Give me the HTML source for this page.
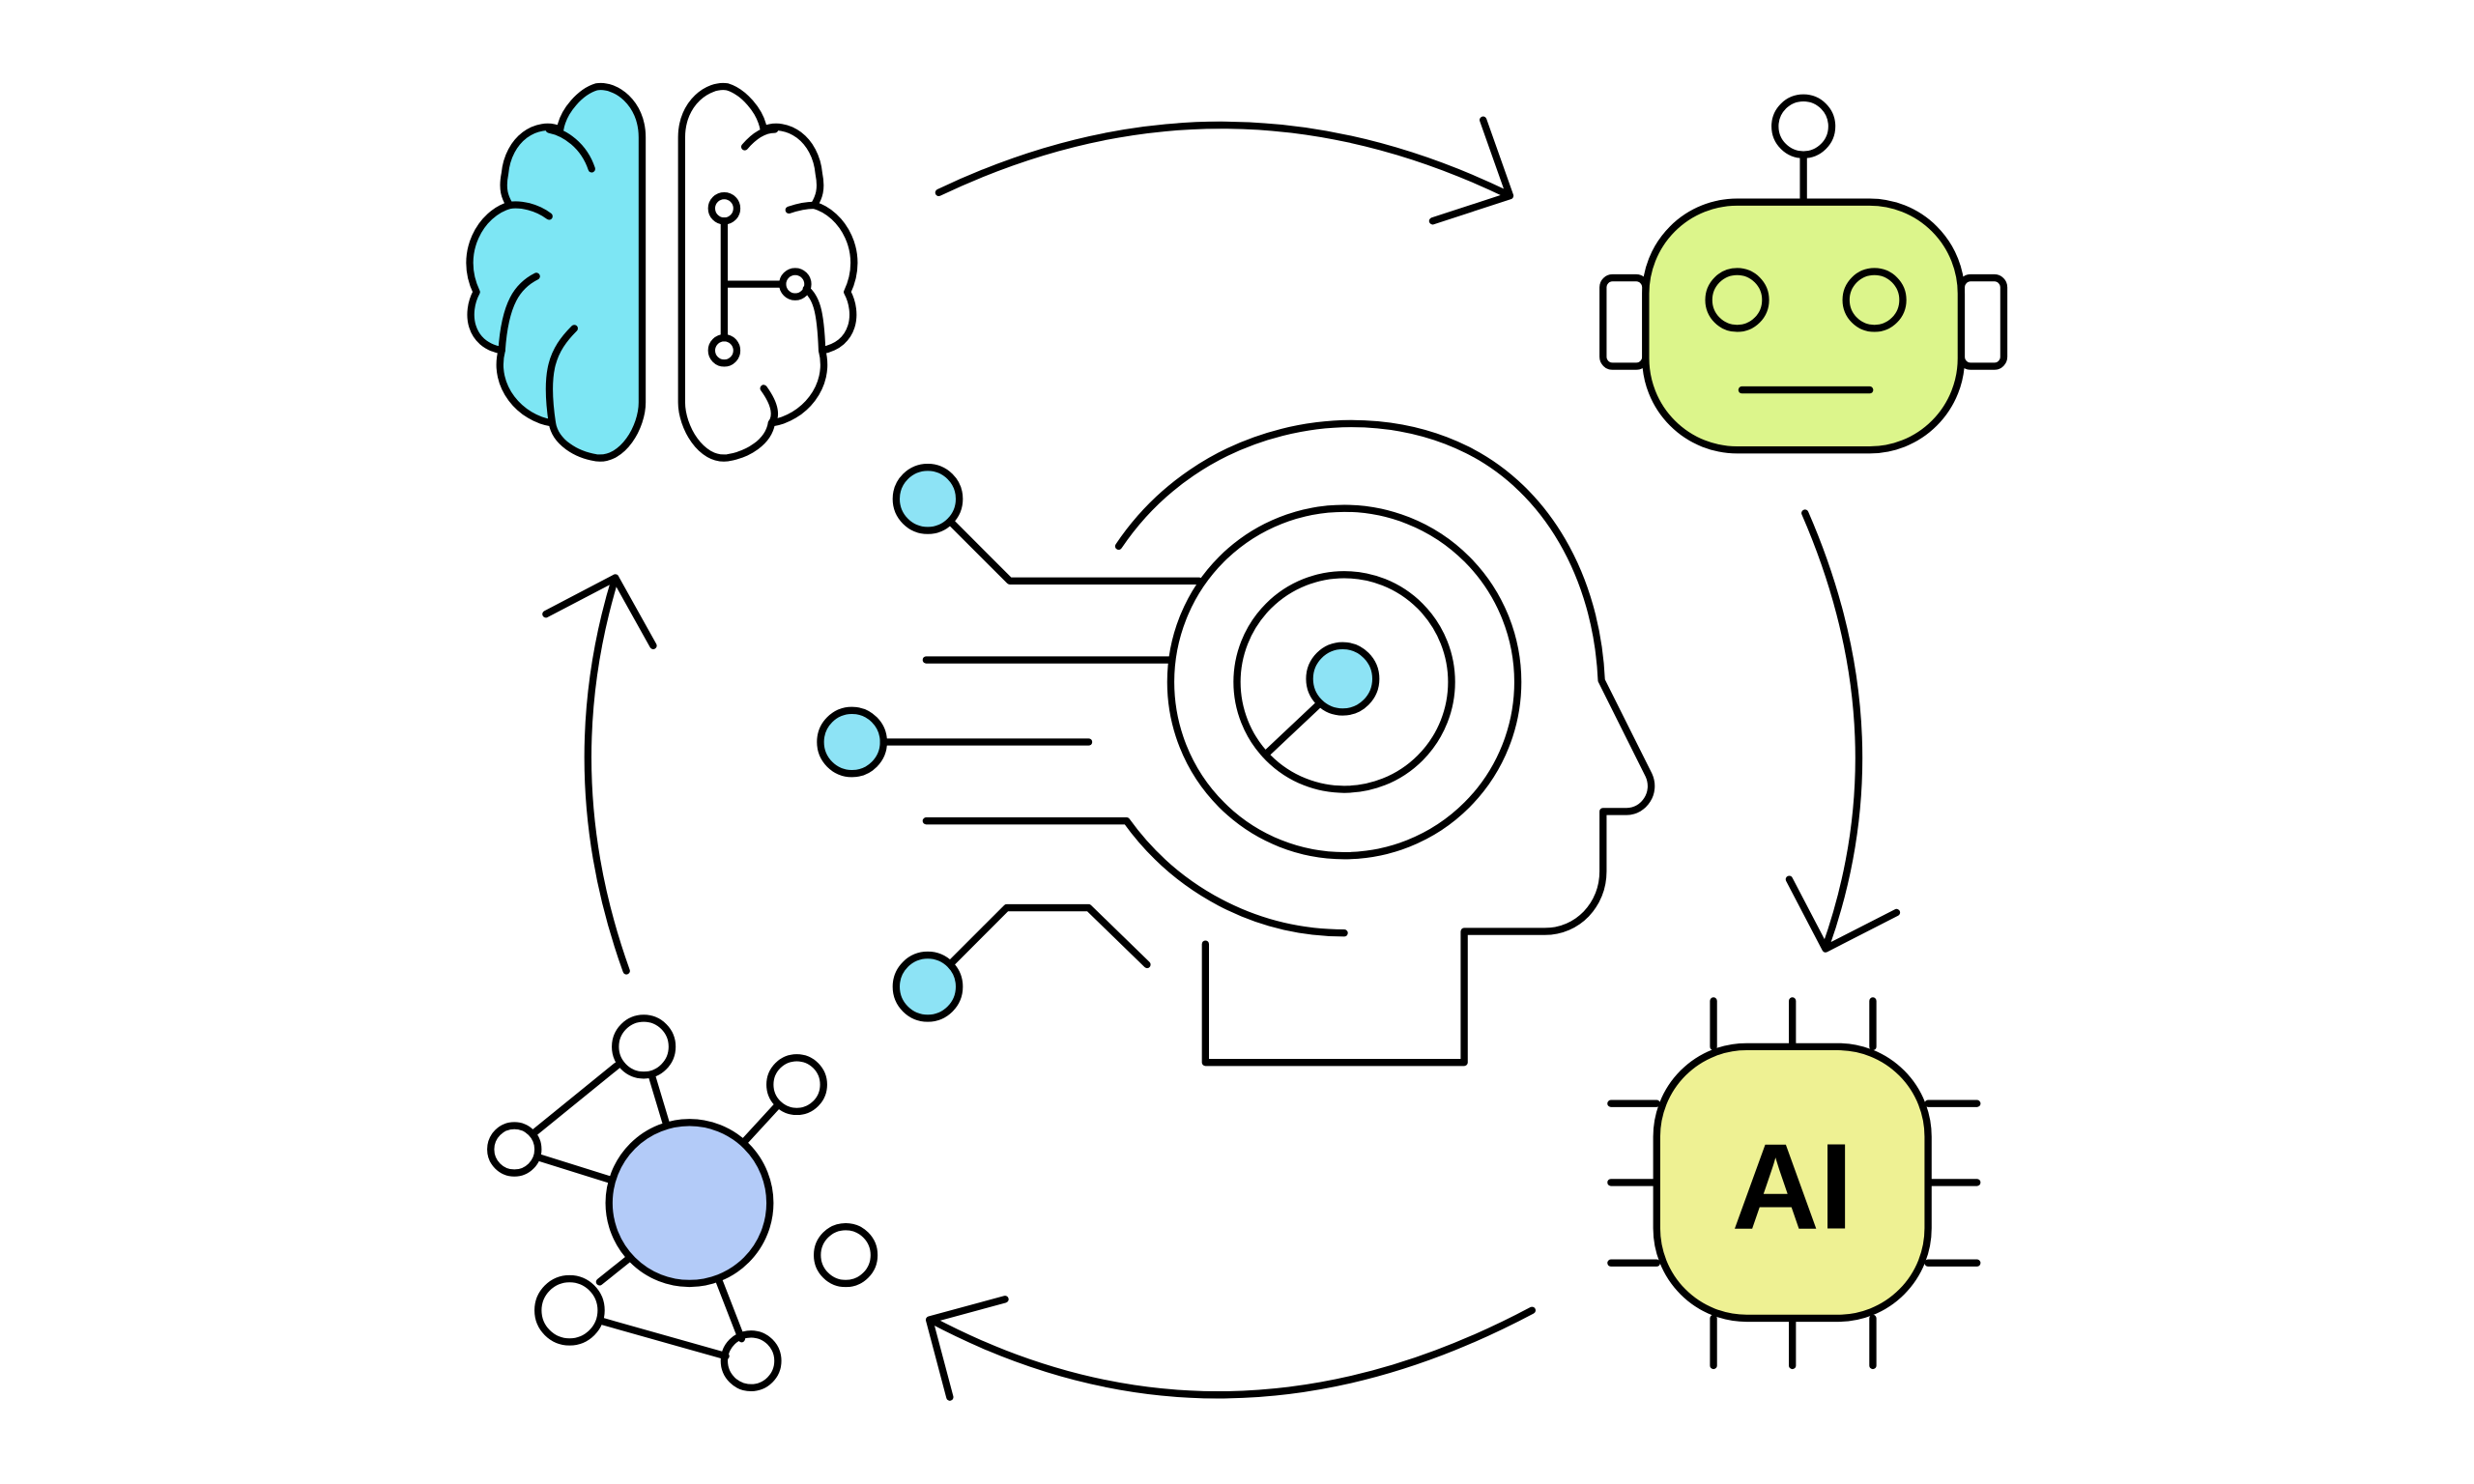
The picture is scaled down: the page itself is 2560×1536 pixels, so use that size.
<!DOCTYPE html>
<html><head><meta charset="utf-8"><style>
html,body{margin:0;padding:0;background:#fff;}
svg{display:block;}
</style></head><body>
<svg width="2560" height="1536" viewBox="0 0 1568 940" preserveAspectRatio="none" xmlns="http://www.w3.org/2000/svg">
<rect width="1568" height="940" fill="#fff"/>
<g fill="none" stroke="#000" stroke-width="4.5" stroke-linecap="round" stroke-linejoin="round">
<!-- Brain left -->
<path fill="#7de6f4" d="M407,87 C407,65 390,53 378,55 C368,58 357,70 355,82 C340,76 322,88 320,110 C318,120 320,125 323,130 C305,135 290,160 302,185 C295,198 297,218 318,222 C312,245 330,265 350,268 C352,280 365,288 378,290 C395,292 407,270 407,255 Z"/>
<path d="M375,107 C370,92 358,84 348,82"/>
<path d="M348,137 C340,131 330,129 323,130"/>
<path d="M340,175 C328,181 320,192 318,222"/>
<path d="M364,208 C350,222 345,235 350,268"/>
<!-- Brain right -->
<path d="M432,87 C432,65 449,53 461,55 C471,58 482,70 484,82 C499,76 517,88 519,110 C521,120 519,125 516,130 C534,135 549,160 537,185 C544,198 542,218 521,222 C527,245 509,265 489,268 C487,280 474,288 461,290 C444,292 432,270 432,255 Z"/>
<path d="M472,93 C478,86 484,82 491,82"/>
<path d="M500,133 C506,131 511,130 516,130"/>
<path d="M511,183 C517,189 520,195 521,222"/>
<path d="M484,246 C492,257 492,264 489,268"/>
<circle cx="459" cy="132" r="8"/><circle cx="504" cy="180" r="8"/><circle cx="459" cy="222" r="8"/>
<path d="M459,140 L459,214 M459,180 L496,180"/>
<!-- arrows -->
<path d="M595,122 Q775,36 955,123"/><path d="M940,76 L957,124 L908,140"/>
<path d="M1144,325 Q1205,465 1157,600"/><path d="M1134,557 L1157,601 L1202,578"/>
<path d="M971,830 Q775,934 590,836"/><path d="M637,823 L589,836 L602,885"/>
<path d="M397,615 Q352,490 390,366"/><path d="M346,389 L390,366 L414,409"/>
<!-- Robot -->
<line x1="1143" y1="98" x2="1143" y2="128"/><circle cx="1143" cy="80" r="18"/>
<rect x="1016" y="176" width="27" height="56" rx="6"/><rect x="1243" y="176" width="27" height="56" rx="6"/>
<rect x="1043" y="128" width="200" height="157" rx="58" fill="#dcf58b"/>
<circle cx="1101" cy="190" r="18"/><circle cx="1188" cy="190" r="18"/>
<line x1="1104" y1="247" x2="1185" y2="247"/>
<!-- AI chip -->
<path d="M1086,634 V663 M1136,634 V663 M1187,634 V663 M1086,835 V865 M1136,835 V865 M1187,835 V865 M1021,699 H1050 M1021,749 H1050 M1021,800 H1050 M1222,699 H1253 M1222,749 H1253 M1222,800 H1253"/>
<rect x="1050" y="663" width="172" height="172" rx="57" fill="#eef193"/>
<!-- Head -->
<path d="M709,346 C760,270 860,250 930,285 C980,310 1012,365 1015,431 L1045,491 C1050,502 1042,514 1031,514 L1016,514 L1016,552 C1016,573 1000,590 979,590 L928,590 L928,673 L764,673 L764,598"/>
<circle cx="852" cy="432" r="110"/><circle cx="852" cy="432" r="68"/>
<line x1="836" y1="446" x2="802" y2="478"/>
<circle cx="851" cy="430" r="21" fill="#8de3f5"/>
<circle cx="588" cy="316" r="20" fill="#8de3f5"/>
<path d="M603,331 L640,368 L760,368"/>
<line x1="587" y1="418" x2="742" y2="418"/>
<circle cx="540" cy="470" r="20" fill="#8de3f5"/>
<line x1="560" y1="470" x2="690" y2="470"/>
<path d="M587,520 L714,520 C745,563 795,591 852,591"/>
<circle cx="588" cy="625" r="20" fill="#8de3f5"/>
<path d="M603,610 L638,575 L690,575 L727,611"/>
<!-- Network -->
<path d="M338,718 L391,675 M413,681 L422,711 M471,724 L493,700 M341,733 L389,748 M380,812 L400,796 M456,812 L470,848 M382,837 L460,859"/>
<circle cx="437" cy="762" r="51" fill="#b3cbf8"/>
<circle cx="408" cy="663" r="18"/><circle cx="505" cy="687" r="17"/><circle cx="326" cy="728" r="15"/>
<circle cx="536" cy="795" r="18"/><circle cx="361" cy="830" r="20"/><circle cx="476" cy="862" r="17"/>
</g>
<text x="1136" y="778" text-anchor="middle" font-family="Liberation Sans, sans-serif" font-weight="bold" font-size="77" fill="#000">AI</text>
</svg>
</body></html>
